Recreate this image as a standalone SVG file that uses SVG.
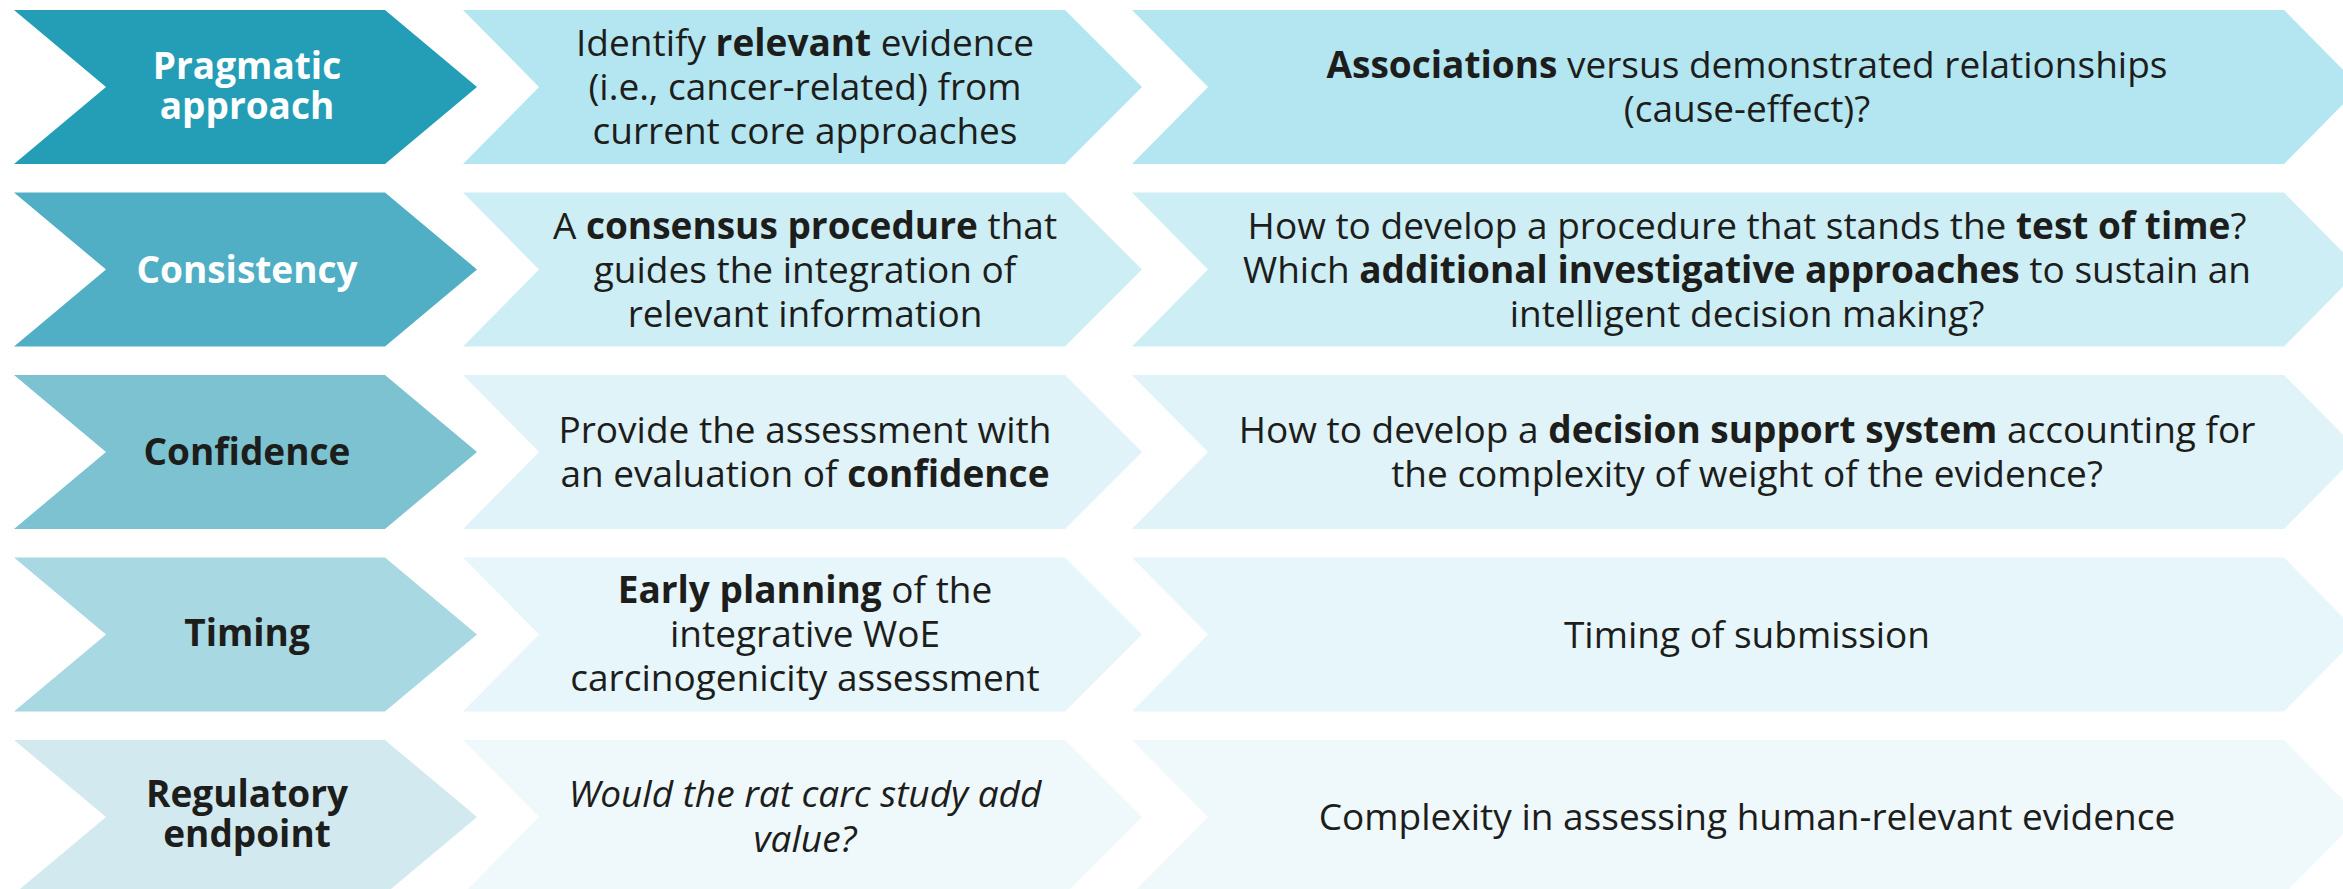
<svg xmlns="http://www.w3.org/2000/svg" xmlns:xlink="http://www.w3.org/1999/xlink" width="2343" height="889" viewBox="0 0 2343 889">
  <defs>
    <style>
      text { font-family: "Open Sans", "Liberation Sans", sans-serif; text-anchor: middle; fill: #1d1d1b; }
      .head { font-size: 37px; font-weight: 700; }
      .head.light { fill: #ffffff; }
      .body { font-size: 37px; font-weight: 400; }
      .body tspan.b { font-weight: 700; }
      .body.it { font-style: italic; }
      .r1 .lead { fill: #249db6; } .r1 .cell { fill: #b3e6f1; }
      .r2 .lead { fill: #50afc4; } .r2 .cell { fill: #cdeef5; }
      .r3 .lead { fill: #7cc2d1; } .r3 .cell { fill: #dff3f8; }
      .r4 .lead { fill: #a8d8e1; } .r4 .cell { fill: #e6f6fa; }
      .r5 .lead { fill: #d2e9ef; } .r5 .cell { fill: #eff8fb; }
    </style>
    <!-- chevron outlines, drawn relative to the top of a row (row height 154) -->
    <polygon id="chev-a" points="14,0 385,0 477,77 385,154 14,154 106,77"/>
    <polygon id="chev-b" points="463,0 1065,0 1142,77 1065,154 463,154 539,77"/>
    <polygon id="chev-c" points="1132,0 2284,0 2360,77 2284,154 1132,154 1208,77"/>
  </defs>

  <rect width="2343" height="889" fill="#ffffff"/>

  <!-- Row 1 : Pragmatic approach -->
  <g class="r1" transform="translate(0,10)">
    <g id="pragmatic">
      <use xlink:href="#chev-a" class="lead"/>
      <text class="head light" x="247" y="69">Pragmatic</text>
      <text class="head light" x="247" y="109">approach</text>
    </g>
    <g id="pragmatic-goal">
      <use xlink:href="#chev-b" class="cell"/>
      <text class="body" x="805" y="46">Identify <tspan class="b">relevant</tspan> evidence</text>
      <text class="body" x="805" y="90">(i.e., cancer-related) from</text>
      <text class="body" x="805" y="134">current core approaches</text>
    </g>
    <g id="pragmatic-challenge">
      <use xlink:href="#chev-c" class="cell"/>
      <text class="body" x="1747" y="68"><tspan class="b">Associations</tspan> versus demonstrated relationships</text>
      <text class="body" x="1747" y="112">(cause-effect)?</text>
    </g>
  </g>

  <!-- Row 2 : Consistency -->
  <g class="r2" transform="translate(0,192.5)">
    <g id="consistency">
      <use xlink:href="#chev-a" class="lead"/>
      <text class="head light" x="247" y="90">Consistency</text>
    </g>
    <g id="consistency-goal">
      <use xlink:href="#chev-b" class="cell"/>
      <text class="body" x="805" y="46">A <tspan class="b">consensus procedure</tspan> that</text>
      <text class="body" x="805" y="90">guides the integration of</text>
      <text class="body" x="805" y="134">relevant information</text>
    </g>
    <g id="consistency-challenge">
      <use xlink:href="#chev-c" class="cell"/>
      <text class="body" x="1747" y="46">How to develop a procedure that stands the <tspan class="b">test of time</tspan>?</text>
      <text class="body" x="1747" y="90">Which <tspan class="b">additional investigative approaches</tspan> to sustain an</text>
      <text class="body" x="1747" y="134">intelligent decision making?</text>
    </g>
  </g>

  <!-- Row 3 : Confidence -->
  <g class="r3" transform="translate(0,375)">
    <g id="confidence">
      <use xlink:href="#chev-a" class="lead"/>
      <text class="head" x="247" y="90">Confidence</text>
    </g>
    <g id="confidence-goal">
      <use xlink:href="#chev-b" class="cell"/>
      <text class="body" x="805" y="68">Provide the assessment with</text>
      <text class="body" x="805" y="112">an evaluation of <tspan class="b">confidence</tspan></text>
    </g>
    <g id="confidence-challenge">
      <use xlink:href="#chev-c" class="cell"/>
      <text class="body" x="1747" y="68">How to develop a <tspan class="b">decision support system</tspan> accounting for</text>
      <text class="body" x="1747" y="112">the complexity of weight of the evidence?</text>
    </g>
  </g>

  <!-- Row 4 : Timing -->
  <g class="r4" transform="translate(0,557.5)">
    <g id="timing">
      <use xlink:href="#chev-a" class="lead"/>
      <text class="head" x="247" y="88">Timing</text>
    </g>
    <g id="timing-goal">
      <use xlink:href="#chev-b" class="cell"/>
      <text class="body" x="805" y="45"><tspan class="b">Early planning</tspan> of the</text>
      <text class="body" x="805" y="89">integrative WoE</text>
      <text class="body" x="805" y="133">carcinogenicity assessment</text>
    </g>
    <g id="timing-challenge">
      <use xlink:href="#chev-c" class="cell"/>
      <text class="body" x="1747" y="90">Timing of submission</text>
    </g>
  </g>

  <!-- Row 5 : Regulatory endpoint -->
  <g class="r5" transform="translate(0,740)">
    <g id="regulatory">
      <use xlink:href="#chev-a" class="lead"/>
      <text class="head" x="247" y="67">Regulatory</text>
      <text class="head" x="247" y="107">endpoint</text>
    </g>
    <g id="regulatory-goal">
      <use xlink:href="#chev-b" class="cell"/>
      <text class="body it" x="805" y="67">Would the rat carc study add</text>
      <text class="body it" x="805" y="112">value?</text>
    </g>
    <g id="regulatory-challenge">
      <use xlink:href="#chev-c" class="cell"/>
      <text class="body" x="1747" y="90">Complexity in assessing human-relevant evidence</text>
    </g>
  </g>
</svg>
